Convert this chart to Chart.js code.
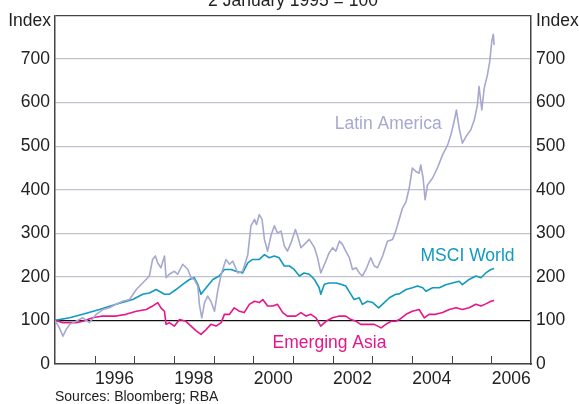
<!DOCTYPE html>
<html>
<head>
<meta charset="utf-8">
<script src="https://cdn.jsdelivr.net/npm/chart.js@4"></script>
<style>
  html, body { margin: 0; padding: 0; background: #fff; }
  #chart { display: block; }
</style>
</head>
<body>
<canvas id="chart" width="579" height="404"></canvas>
<script>
// Indices, 2 January 1995 = 100
const latamYears = [1995.00, 1995.11, 1995.20, 1995.28, 1995.37, 1995.53, 1995.70, 1995.87, 1996.04, 1996.21,
  1996.37, 1996.54, 1996.71, 1996.88, 1997.05, 1997.21, 1997.38, 1997.46, 1997.53, 1997.59,
  1997.67, 1997.76, 1997.80, 1997.88, 1998.01, 1998.09, 1998.22, 1998.35, 1998.43, 1998.51,
  1998.60, 1998.64, 1998.70, 1998.77, 1998.85, 1998.93, 1999.02, 1999.10, 1999.19, 1999.31,
  1999.40, 1999.48, 1999.61, 1999.73, 1999.86, 1999.94, 2000.03, 2000.08, 2000.15, 2000.22,
  2000.28, 2000.36, 2000.45, 2000.53, 2000.61, 2000.70, 2000.78, 2000.86, 2000.95, 2001.06,
  2001.12, 2001.20, 2001.28, 2001.41, 2001.54, 2001.62, 2001.70, 2001.79, 2001.91, 2002.00,
  2002.08, 2002.17, 2002.25, 2002.33, 2002.42, 2002.50, 2002.59, 2002.67, 2002.75, 2002.84,
  2002.96, 2003.05, 2003.13, 2003.26, 2003.38, 2003.51, 2003.59, 2003.68, 2003.76, 2003.85,
  2003.93, 2004.01, 2004.10, 2004.18, 2004.22, 2004.28, 2004.33, 2004.39, 2004.52, 2004.64,
  2004.77, 2004.90, 2004.98, 2005.06, 2005.12, 2005.19, 2005.27, 2005.36, 2005.48, 2005.57,
  2005.65, 2005.69, 2005.76, 2005.82, 2005.90, 2005.96, 2006.01, 2006.05, 2006.07];
const latamValues = [100, 83, 64, 79, 91, 98, 106, 95, 114, 125,
  129, 137, 144, 148, 171, 186, 202, 240, 248, 232,
  221, 248, 198, 206, 213, 206, 229, 217, 198, 194,
  179, 137, 106, 141, 156, 144, 121, 167, 206, 240,
  229, 236, 209, 213, 251, 317, 332, 320, 343, 332,
  286, 259, 297, 317, 301, 305, 271, 259, 278, 309,
  293, 267, 274, 286, 267, 244, 209, 228, 255, 267,
  259, 282, 274, 259, 244, 217, 221, 209, 202, 217,
  244, 225, 221, 248, 282, 286, 305, 333, 358, 373,
  404, 450, 442, 438, 457, 427, 377, 411, 427, 450,
  480, 503, 526, 556, 583, 541, 507, 522, 537, 560,
  595, 637, 583, 633, 663, 694, 740, 757, 732];

const worldYears = [1995.00, 1995.37, 1995.70, 1996.12, 1996.54, 1996.96, 1997.21, 1997.38, 1997.55, 1997.76,
  1997.88, 1998.05, 1998.22, 1998.39, 1998.51, 1998.60, 1998.68, 1998.81, 1998.98, 1999.14,
  1999.27, 1999.44, 1999.56, 1999.73, 1999.86, 1999.98, 2000.15, 2000.28, 2000.40, 2000.53,
  2000.65, 2000.78, 2000.91, 2001.03, 2001.16, 2001.28, 2001.41, 2001.54, 2001.66, 2001.70,
  2001.79, 2001.91, 2002.08, 2002.21, 2002.33, 2002.46, 2002.54, 2002.67, 2002.75, 2002.88,
  2003.01, 2003.16, 2003.30, 2003.43, 2003.59, 2003.68, 2003.85, 2004.01, 2004.14, 2004.27,
  2004.35, 2004.52, 2004.69, 2004.85, 2005.02, 2005.19, 2005.27, 2005.44, 2005.61, 2005.74,
  2005.86, 2005.99, 2006.07];
const worldValues = [100, 106, 114, 125, 137, 148, 160, 163, 171, 160,
  160, 171, 183, 194, 198, 183, 160, 175, 194, 202,
  217, 217, 213, 209, 232, 240, 240, 251, 244, 248,
  244, 225, 225, 217, 202, 209, 206, 194, 175, 160,
  183, 186, 186, 183, 179, 160, 148, 152, 137, 144,
  141, 129, 141, 152, 160, 161, 171, 175, 179, 175,
  167, 175, 175, 182, 186, 190, 182, 194, 202, 198,
  209, 217, 219];

const asiaYears = [1995.00, 1995.20, 1995.53, 1995.70, 1995.95, 1996.20, 1996.54, 1996.79, 1997.05, 1997.30,
  1997.46, 1997.59, 1997.67, 1997.76, 1997.80, 1997.88, 1998.01, 1998.14, 1998.30, 1998.43,
  1998.56, 1998.68, 1998.81, 1998.93, 1999.06, 1999.19, 1999.27, 1999.40, 1999.52, 1999.65,
  1999.77, 1999.90, 2000.03, 2000.15, 2000.24, 2000.36, 2000.49, 2000.61, 2000.74, 2000.86,
  2001.07, 2001.20, 2001.33, 2001.45, 2001.58, 2001.70, 2001.83, 2002.00, 2002.17, 2002.33,
  2002.46, 2002.59, 2002.71, 2002.88, 2003.05, 2003.22, 2003.34, 2003.47, 2003.59, 2003.68,
  2003.85, 2004.01, 2004.18, 2004.31, 2004.43, 2004.60, 2004.77, 2004.94, 2005.11, 2005.27,
  2005.44, 2005.61, 2005.74, 2005.86, 2005.99, 2006.07];
const asiaValues = [100, 95, 95, 98, 106, 110, 110, 114, 121, 125,
  133, 141, 129, 121, 91, 95, 87, 102, 98, 87,
  76, 68, 79, 91, 87, 95, 114, 114, 129, 121,
  118, 137, 144, 141, 148, 133, 133, 137, 118, 110,
  110, 118, 110, 114, 106, 87, 98, 106, 110, 110,
  102, 98, 91, 91, 91, 83, 91, 98, 98, 102,
  114, 121, 125, 106, 114, 114, 118, 125, 129, 125,
  129, 137, 133, 138, 144, 146];

const yearLabels = [1996, 1998, 2000, 2002, 2004, 2006];
const yTicks = [0, 100, 200, 300, 400, 500, 600, 700];

const FONT = '"Liberation Sans", Arial, sans-serif';
const SIZE = 17.5;
const TEXT = '#222';

function toPoints(xs, ys) {
  return xs.map((x, i) => ({ x: x, y: ys[i] }));
}

const annotations = {
  id: 'annotations',
  afterDraw(chart) {
    const c = chart.ctx;
    const xs = chart.scales.x;
    const ys = chart.scales.y;
    const area = chart.chartArea;
    c.save();

    // inside tick marks on the year boundaries
    c.strokeStyle = '#444';
    c.lineWidth = 1;
    for (let yr = 1996; yr <= 2006; yr++) {
      const px = Math.round(xs.getPixelForValue(yr)) + 0.5;
      c.beginPath();
      c.moveTo(px, area.bottom);
      c.lineTo(px, area.bottom - 8);
      c.stroke();
    }

    c.font = SIZE + 'px ' + FONT;
    c.fillStyle = TEXT;
    c.textBaseline = 'middle';
    c.textAlign = 'right';
    c.fillText('Index', area.left - 4, 21);
    c.textAlign = 'left';
    c.fillText('Index', area.right + 5, 21);

    c.textAlign = 'center';
    c.textBaseline = 'alphabetic';
    c.fillText('2 January 1995 = 100', 293, 6);

    c.font = '14px ' + FONT;
    c.textAlign = 'left';
    c.textBaseline = 'middle';
    c.fillText('Sources: Bloomberg; RBA', area.left, 397);

    // series labels
    c.font = SIZE + 'px ' + FONT;
    c.textAlign = 'center';
    c.fillStyle = '#a6a8d0';
    c.fillText('Latin America', xs.getPixelForValue(2003.4), ys.getPixelForValue(550));
    c.fillStyle = '#1199c2';
    c.fillText('MSCI World', xs.getPixelForValue(2005.4), ys.getPixelForValue(247));
    c.fillStyle = '#e5168a';
    c.fillText('Emerging Asia', xs.getPixelForValue(2001.92), ys.getPixelForValue(48));
    c.restore();
  }
};

const ctx = document.getElementById('chart').getContext('2d');
new Chart(ctx, {
  type: 'line',
  data: {
    datasets: [
      {
        label: 'Latin America',
        data: toPoints(latamYears, latamValues),
        borderColor: '#a6a8d0',
        borderWidth: 1.6
      },
      {
        label: 'Emerging Asia',
        data: toPoints(asiaYears, asiaValues),
        borderColor: '#e5168a',
        borderWidth: 1.6
      },
      {
        label: 'MSCI World',
        data: toPoints(worldYears, worldValues),
        borderColor: '#1199c2',
        borderWidth: 1.6
      }
    ]
  },
  options: {
    responsive: false,
    animation: false,
    events: [],
    parsing: false,
    elements: {
      point: { radius: 0 },
      line: { tension: 0, borderJoinStyle: 'round' }
    },
    layout: { padding: { top: 14, left: 0, right: 0, bottom: 0 } },
    plugins: {
      legend: { display: false },
      tooltip: { enabled: false },
      title: { display: false }
    },
    scales: {
      x: {
        type: 'linear',
        min: 1995,
        max: 2007,
        afterBuildTicks(scale) {
          scale.ticks = yearLabels.map(v => ({ value: v + 0.5 }));
        },
        afterFit(scale) { scale.height = 40; },
        ticks: {
          autoSkip: false,
          maxRotation: 0,
          padding: 5,
          color: TEXT,
          font: { family: FONT, size: SIZE },
          callback: v => String(Math.floor(v))
        },
        grid: { display: false, drawTicks: false },
        border: { display: true, color: '#444', width: 1.5 }
      },
      y: {
        position: 'left',
        min: 0,
        max: 800,
        afterBuildTicks(scale) {
          scale.ticks = yTicks.concat([800]).map(v => ({ value: v }));
        },
        afterFit(scale) { scale.width = 55; },
        ticks: {
          padding: 5,
          color: TEXT,
          font: { family: FONT, size: SIZE },
          callback: v => (v === 800 ? '' : String(v))
        },
        grid: {
          drawTicks: false,
          lineWidth: 1.2,
          color: c => {
            if (!c.tick) return '#c2c2cc';
            if (c.tick.value === 100) return '#111';
            if (c.tick.value === 800) return '#444';
            return '#c2c2cc';
          }
        },
        border: { display: true, color: '#444', width: 1.5 }
      },
      y2: {
        position: 'right',
        min: 0,
        max: 800,
        afterBuildTicks(scale) {
          scale.ticks = yTicks.concat([800]).map(v => ({ value: v }));
        },
        afterFit(scale) { scale.width = 48; },
        ticks: {
          padding: 5,
          color: TEXT,
          font: { family: FONT, size: SIZE },
          callback: v => (v === 800 ? '' : String(v))
        },
        grid: { drawOnChartArea: false, drawTicks: false },
        border: { display: true, color: '#444', width: 1.5 }
      }
    }
  },
  plugins: [annotations]
});
</script>
</body>
</html>
